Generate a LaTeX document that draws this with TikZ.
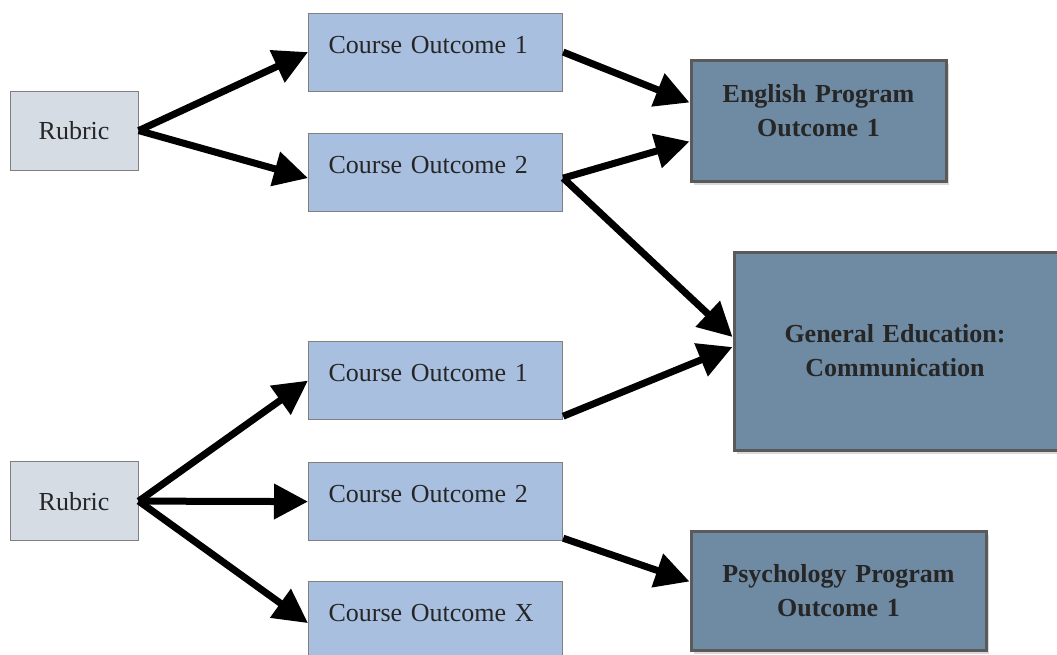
\documentclass[tikz,border=0pt]{standalone}
\usepackage{fontspec}
\setmainfont[WordSpace=0.8]{Liberation Serif}
\usetikzlibrary{arrows.meta,shadows}
\definecolor{rubricfill}{HTML}{D5DCE4}
\definecolor{coursefill}{HTML}{A9BFE0}
\definecolor{progfill}{HTML}{6F8BA3}
\definecolor{boxgray}{HTML}{7F7F7F}
\definecolor{progborder}{HTML}{5A5A5A}
\begin{document}
\begin{tikzpicture}[x=1pt,y=-1pt]
            \tikzset{
	every node/.style={font=\fontsize{26}{34}\selectfont, text=black!85},
	rubric/.style={draw=boxgray, line width=1.2pt, fill=rubricfill, anchor=north west, inner sep=0pt, minimum width=128pt, minimum height=79pt},
	course/.style={draw=boxgray, line width=1.2pt, fill=coursefill, anchor=north west, inner xsep=20pt, inner ysep=22pt, text width=214pt, align=left, text height=18pt, text depth=16pt},
	program/.style={draw=progborder, line width=3pt, fill=progfill, anchor=north west, inner xsep=0pt, align=center, font=\fontsize{26}{34}\selectfont\bfseries, drop shadow={opacity=.3, shadow xshift=3pt, shadow yshift=-4pt}},
	link/.style={draw, line width=7pt, -{Triangle[length=34pt,width=34pt]}}
}
\useasboundingbox (0,0) rectangle (1057,654);

\node[rubric] (r1) at (9.5,90.5) {Rubric};
\node[rubric] (r2) at (9.5,461) {Rubric};

\node[course] (a1) at (308,12.5) {Course Outcome 1};
\node[course] (a2) at (308,132.5) {Course Outcome 2};
\node[course] (b1) at (308,341) {Course Outcome 1};
\node[course] (b2) at (308,462) {Course Outcome 2};
\node[course] (bx) at (308,580.5) {Course Outcome X};

\node[program, text width=255pt, inner ysep=22.5pt, text height=20pt, text depth=56pt] (eng) at (689.5,58.5) {English Program\\Outcome 1};
\node[program, text width=330pt, minimum height=198pt] (gen) at (732.5,250.5) {\hspace*{-8pt}General Education:\\\hspace*{-8pt}Communication};
\node[program, text width=295pt, inner ysep=31.5pt, text height=20pt, text depth=36pt] (psy) at (689.5,529.5) {Psychology Program\\Outcome 1};

\draw[link] (r1.east) -- (a1.west);
\draw[link] (r1.east) -- ([yshift=-6pt]a2.west);
\draw[link] (a1.east) -- ([yshift=18pt]eng.west);
\draw[link] ([yshift=-6pt]a2.east) -- ([yshift=-21pt]eng.west);
\draw[link] ([yshift=-6pt]a2.east) -- ([yshift=14pt]gen.west);
\draw[link] ([yshift=4pt]b1.south east) -- ([yshift=4pt]gen.west);
\draw[link] (r2.east) -- (b1.west);
\draw[link] (r2.east) -- (b2.west);
\draw[link] (r2.east) -- ([yshift=-3pt]bx.west);
\draw[link] ([yshift=3pt]b2.south east) -- ([yshift=9pt]psy.west);
        \end{tikzpicture}
\end{document}
